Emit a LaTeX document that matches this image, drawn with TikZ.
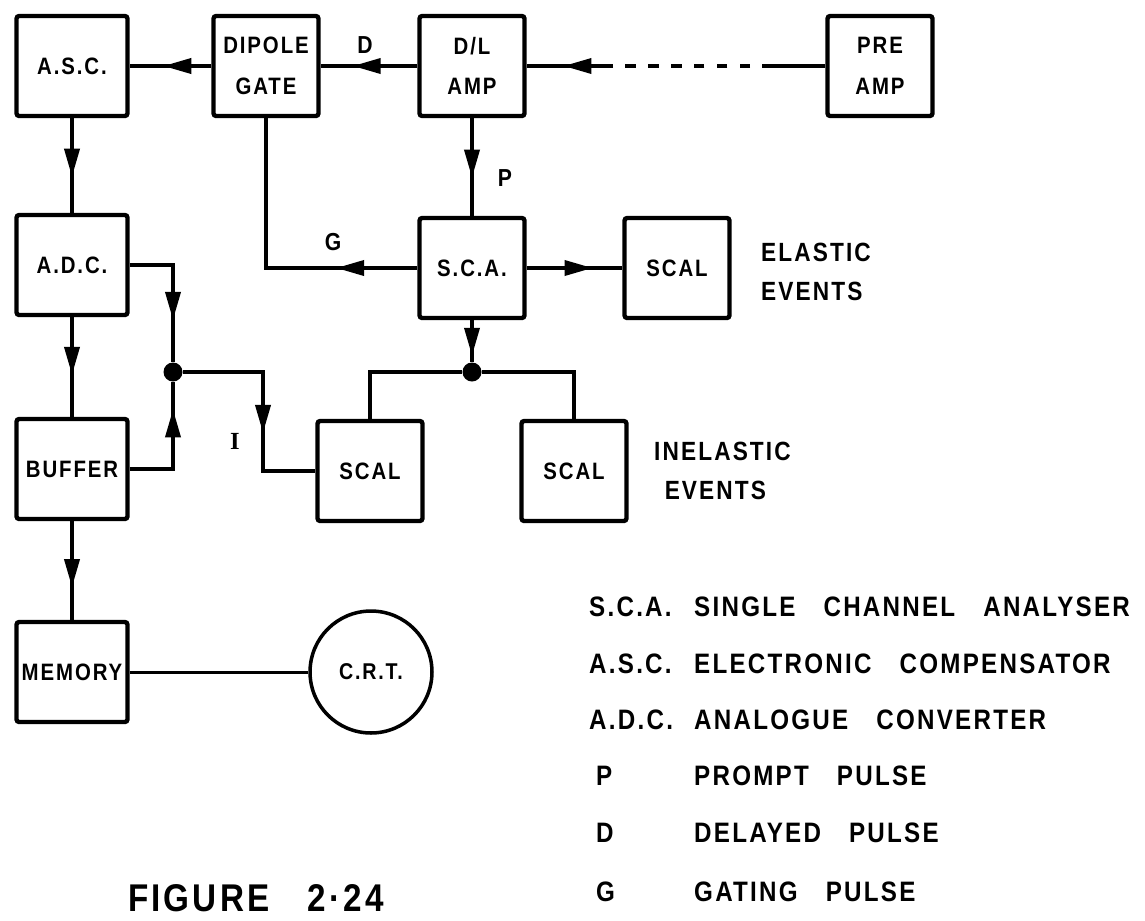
\documentclass[tikz,border=0pt]{standalone}
\usepackage{fontspec}
\setmainfont{Liberation Sans}[FakeStretch=0.86, LetterSpace=8, UprightFont=* Bold]
\newfontfamily\serifI{Liberation Serif}[UprightFont=* Bold]
\usetikzlibrary{positioning, arrows.meta, decorations.markings}
\tikzset{
    block/.style={draw, line width=2.5pt, rounded corners=1.5pt, minimum width=2.1cm, minimum height=2cm, inner sep=0pt, align=center, font=\fontsize{13.5}{23}\selectfont},
    wide/.style={minimum width=2.22cm},
    blabel/.style={font=\fontsize{14}{16}\selectfont},
    dot/.style={circle, fill=black, inner sep=0pt, minimum size=0.38cm},
    wire/.style={line width=2.2pt},
    midarrow/.style={wire, postaction={decorate}, decoration={markings, mark=at position #1 with {\arrow{Triangle[length=16pt, width=8.5pt]}}}},
    legend/.style={anchor=west, font=\fontsize{16}{18}\selectfont}
}
\begin{document}
\begin{tikzpicture}[x=0.02cm, y=-0.02cm]
    \useasboundingbox (0,0) rectangle (1145,920);

    % Left column
    \node[block, wide] (ASC) at (72,66) {A.S.C.};
    \node[block, wide] (ADC) at (72,265) {A.D.C.};
    \node[block, wide] (BUF) at (72,469) {BUFFER};
    \node[block, wide] (MEM) at (72,672) {MEMORY};
    \node[circle, draw, line width=2pt, minimum size=2.44cm, font=\fontsize{13}{15}\selectfont] (CRT) at (371,672) {C.R.T.};

    % Top row
    \node[block] (DG) at (266,66) {DIPOLE\\GATE};
    \node[block] (DL) at (472,66) {D/L\\AMP};
    \node[block] (PRE) at (880,66) {PRE\\AMP};
    \coordinate (pa) at (773,66);
    \coordinate (pb) at (612,66);

    % Analyser and scalers
    \node[block] (SCA) at (472,268) {S.C.A.};
    \node[block] (SCE) at (677,268) {SCAL};
    \node[block] (SC1) at (370,471) {SCAL};
    \node[block] (SC2) at (574,471) {SCAL};
    \node[dot] (J1) at (173,372) {};
    \node[dot] (J2) at (472,372) {};
    \coordinate (bend) at (263,471);

    % Pulse path along the top
    \draw[wire] (PRE) -- (pa);
    \draw[wire, dash pattern=on 6pt off 7pt] (pa) -- (pb);
    \draw[midarrow=0.57] (pb) -- (DL);
    \draw[midarrow=0.67] (DL) -- (DG);
    \draw[midarrow=0.59] (DG) -- (ASC);
    \draw[midarrow=0.61] (DL) -- (SCA);
    \draw[midarrow=0.27] (SCA) -| (DG);
    \draw[midarrow=0.69] (SCA) -- (SCE);

    % Left chain
    \draw[midarrow=0.62] (ASC) -- (ADC);
    \draw[midarrow=0.58] (ADC) -- (BUF);
    \draw[midarrow=0.67] (BUF) -- (MEM);
    \draw[line width=1.7pt] (MEM) -- (CRT);
    \draw[midarrow=0.7] (ADC) -| (J1);
    \draw[midarrow=0.79] (BUF) -| (J1);
    \draw[midarrow=0.61] (J1) -| (bend) -- (SC1);

    % Inelastic branch
    \draw[midarrow=0.85] (SCA) -- (J2);
    \draw[wire] (J2) -| (SC1);
    \draw[wire] (J2) -| (SC2);

    % Labels
    \node[blabel] (lD) at (365,45) {D};
    \node[blabel] (lP) at (505,178) {P};
    \node[blabel] (lG) at (333,242) {G};
    \node[blabel] (lI) at (235,441) {\serifI I};
    \node[legend, align=left, font=\fontsize{15}{22}\selectfont] (el) at (755,272) {ELASTIC\\EVENTS};
    \node[legend, align=left, font=\fontsize{15}{22}\selectfont] (inel) at (648,471) {INELASTIC\\\hspace{6pt}EVENTS};

    % Legend
    \node[legend] (k1) at (583,607) {S.C.A.};
    \node[legend] (k2) at (583,664) {A.S.C.};
    \node[legend] (k3) at (583,720) {A.D.C.};
    \node[legend] (k4) at (590,776) {P};
    \node[legend] (k5) at (590,833) {D};
    \node[legend] (k6) at (590,892) {G};
    \node[legend] (v1) at (688,607) {SINGLE\quad CHANNEL\quad ANALYSER};
    \node[legend] (v2) at (688,664) {ELECTRONIC\quad COMPENSATOR};
    \node[legend] (v3) at (688,720) {ANALOGUE\quad CONVERTER};
    \node[legend] (v4) at (688,776) {PROMPT\quad PULSE};
    \node[legend] (v5) at (688,833) {DELAYED\quad PULSE};
    \node[legend] (v6) at (688,892) {GATING\quad PULSE};

    \node[font=\fontsize{22}{26}\selectfont] (fig) at (256,898) {FIGURE\quad 2·24};
\end{tikzpicture}
\end{document}
